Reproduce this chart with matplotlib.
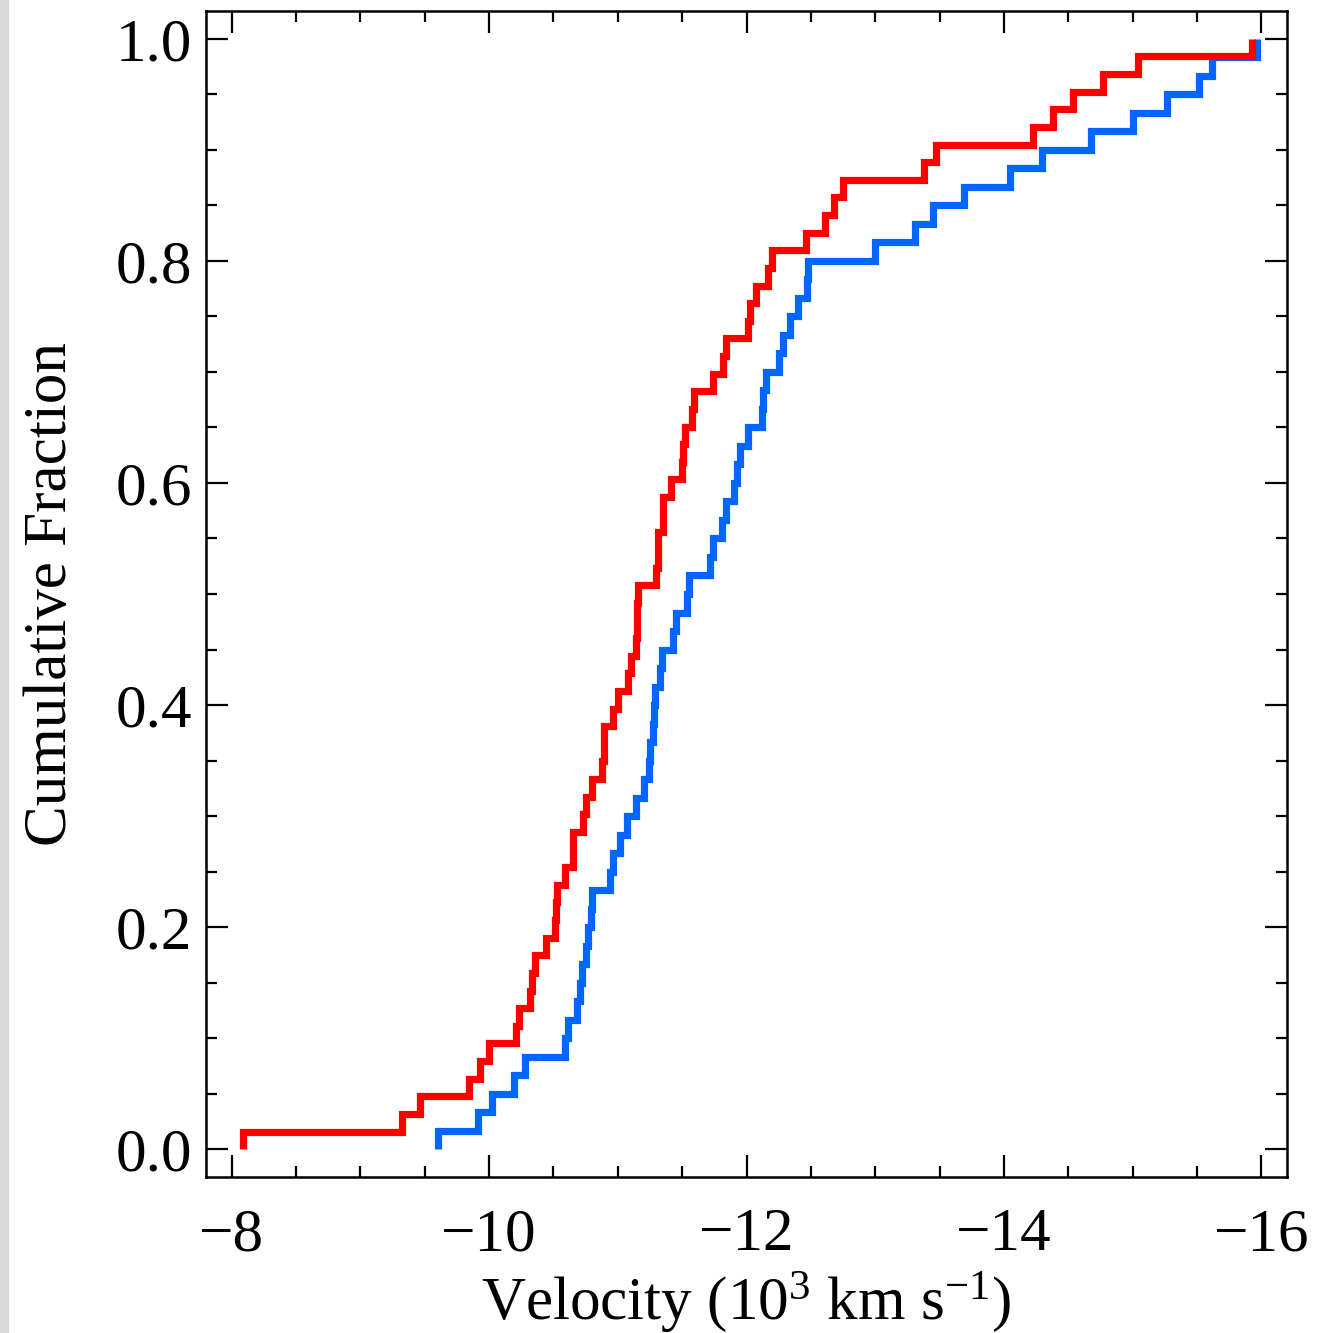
import numpy as np
import matplotlib
matplotlib.use("Agg")
import matplotlib.pyplot as plt
from matplotlib.patches import Rectangle
from matplotlib.ticker import MultipleLocator, FormatStrFormatter

# velocities (10^3 km/s) of each object
red_vel = [
    -8.09, -9.32, -9.46, -9.84, -9.93, -10.00, -10.21, -10.23, -10.32, -10.33,
    -10.36, -10.44, -10.51, -10.52, -10.53, -10.59, -10.65, -10.65, -10.73, -10.75,
    -10.80, -10.88, -10.89, -10.89, -10.96, -11.00, -11.08, -11.10, -11.14, -11.15,
    -11.15, -11.16, -11.30, -11.31, -11.31, -11.35, -11.35, -11.41, -11.50, -11.51,
    -11.52, -11.58, -11.59, -11.74, -11.82, -11.84, -12.01, -12.03, -12.07, -12.17,
    -12.20, -12.46, -12.61, -12.68, -12.75, -13.38, -13.47, -14.23, -14.38, -14.54,
    -14.77, -15.04, -15.93,
]
blue_vel = [
    -9.60, -9.91, -10.02, -10.19, -10.28, -10.59, -10.61, -10.68, -10.71, -10.72,
    -10.75, -10.77, -10.79, -10.80, -10.94, -10.96, -11.02, -11.07, -11.14, -11.20,
    -11.24, -11.25, -11.27, -11.28, -11.29, -11.33, -11.34, -11.43, -11.45, -11.54,
    -11.55, -11.72, -11.74, -11.81, -11.84, -11.90, -11.93, -11.95, -12.01, -12.12,
    -12.13, -12.15, -12.25, -12.28, -12.34, -12.40, -12.47, -12.48, -13.00, -13.31,
    -13.45, -13.69, -14.05, -14.30, -14.68, -15.00, -15.27, -15.52, -15.62, -15.97,
]
x_ticks = [-8, -10, -12, -14, -16]
y_ticks = [0.0, 0.2, 0.4, 0.6, 0.8, 1.0]


def cumulative(vel):
    # sort by speed (most negative last) and build the cumulative fraction
    v = np.sort(np.array(vel))[::-1]
    n = len(v)
    x = np.concatenate([[v[0]], v])
    y = np.concatenate([[0.0], np.arange(1, n + 1) / n])
    return x, y


plt.rcParams['font.family'] = ['Liberation Serif', 'DejaVu Serif']
plt.rcParams['mathtext.fontset'] = 'custom'
plt.rcParams['mathtext.rm'] = 'Liberation Serif'
plt.rcParams['mathtext.it'] = 'Liberation Serif:italic'

fig = plt.figure(figsize=(13.22, 13.33), dpi=100)
ax = fig.add_axes([206 / 1322, 1 - 1177 / 1333, (1287 - 206) / 1322, (1177 - 11) / 1333])
fig.patches.append(Rectangle((0, 0), 8 / 1322, 1, transform=fig.transFigure,
                             color='#d9d9d9', zorder=0))

xr, yr = cumulative(red_vel)
xb, yb = cumulative(blue_vel)
ax.plot(xb, yb, drawstyle='steps-post', color='#0066ff', lw=5.2,
        solid_joinstyle='miter', solid_capstyle='butt')
ax.plot(xr, yr, drawstyle='steps-post', color='#ff0000', lw=5.2,
        solid_joinstyle='miter', solid_capstyle='butt')

ax.set_xlim(-7.8, -16.2)
ax.set_ylim(-0.025, 1.025)
ax.set_xticks(x_ticks)
ax.set_yticks(y_ticks)
ax.xaxis.set_minor_locator(MultipleLocator(0.5))
ax.yaxis.set_minor_locator(MultipleLocator(0.05))
ax.yaxis.set_major_formatter(FormatStrFormatter('%.1f'))

ax.tick_params(which='both', direction='in', top=True, right=True, width=1.6,
               labelsize=44)
ax.tick_params(which='major', length=16)
ax.tick_params(which='minor', length=8)
ax.tick_params(axis='x', pad=22)
ax.tick_params(axis='y', pad=10)
for s in ax.spines.values():
    s.set_linewidth(1.8)

ax.set_xlabel(r'Velocity (10$^{3}$ km s$^{-1}$)', fontsize=44, labelpad=5)
ax.set_ylabel('Cumulative Fraction', fontsize=44, labelpad=26)

fig.savefig('out.png', dpi=100)
